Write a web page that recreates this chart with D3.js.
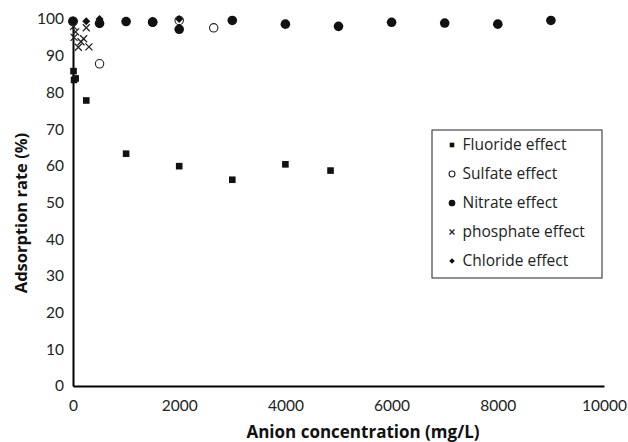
<!DOCTYPE html>
<html>
<head>
<meta charset="utf-8">
<script src="https://cdn.jsdelivr.net/npm/d3@7"></script>
<style>
  body { margin: 0; background: #fff; }
  svg { font-family: "Lato", "Open Sans", sans-serif; }
</style>
</head>
<body>
<div id="chart"></div>
<script>
// data: [concentration mg/L, adsorption %]
var fluoride = [[10, 85.8], [20, 83.4], [50, 83.8], [250, 77.8], [1000, 63.3], [2000, 59.9], [3000, 56.2], [4000, 60.4], [4850, 58.7]];
var sulfate = [[0, 99.3], [500, 87.8], [1500, 99.2], [2000, 99.6], [2650, 97.6]];
var nitrate = [[0, 99.4], [500, 98.8], [1000, 99.3], [1500, 99.1], [2000, 97.2], [3000, 99.6], [4000, 98.6], [5000, 98.0], [6000, 99.1], [7000, 98.9], [8000, 98.6], [9000, 99.6]];
var phosphate = [[10, 98.0], [20, 95.0], [50, 96.5], [100, 92.3], [150, 93.8], [200, 94.6], [250, 97.6], [300, 92.4]];
var chloride = [[0, 99.6], [250, 99.4], [500, 100], [1500, 99.5], [2000, 100]];

var xTicks = [0, 2000, 4000, 6000, 8000, 10000];
var yTicks = [0, 10, 20, 30, 40, 50, 60, 70, 80, 90, 100];

var seriesNames = ["Fluoride effect", "Sulfate effect", "Nitrate effect", "phosphate effect", "Chloride effect"];
var seriesData = [fluoride, sulfate, nitrate, phosphate, chloride];
var seriesShape = ["square", "open", "circle", "cross", "diamond"];

var W = 628, H = 442;
var margin = { top: 19, right: 24, bottom: 56, left: 73 };

var svg = d3.select("#chart").append("svg")
  .attr("width", W)
  .attr("height", H);

var x = d3.scaleLinear().domain([0, 10000]).range([margin.left, W - margin.right]);
var y = d3.scaleLinear().domain([0, 100]).range([H - margin.bottom, margin.top]);

// axes (no tick marks, just labels)
var xAxis = svg.append("g")
  .attr("transform", "translate(0," + y(0) + ")")
  .call(d3.axisBottom(x).tickValues(xTicks).tickSize(0).tickPadding(14).tickFormat(d3.format("d")));
var yAxis = svg.append("g")
  .attr("transform", "translate(" + x(0) + ",0)")
  .call(d3.axisLeft(y).tickValues(yTicks).tickSize(0).tickPadding(9));

[xAxis, yAxis].forEach(function (g) {
  g.select(".domain").attr("stroke", "#000").attr("stroke-width", 2);
  g.selectAll("text").attr("font-size", 15.5).attr("fill", "#222").attr("font-family", "Lato, sans-serif");
});

// axis titles
svg.append("text")
  .attr("x", 363)
  .attr("y", 438)
  .attr("text-anchor", "middle")
  .attr("font-family", "'Open Sans', sans-serif")
  .attr("font-size", 17)
  .attr("font-weight", "bold")
  .attr("fill", "#111")
  .text("Anion concentration (mg/L)");

svg.append("text")
  .attr("transform", "translate(27,213) rotate(-90)")
  .attr("text-anchor", "middle")
  .attr("font-family", "'Open Sans', sans-serif")
  .attr("font-size", 16.5)
  .attr("font-weight", "bold")
  .attr("fill", "#111")
  .text("Adsorption rate (%)");

// marker drawing
function drawMarker(g, shape, s) {
  s = s || 1;
  if (shape === "square") {
    g.append("rect").attr("x", -3.3 * s).attr("y", -3.3 * s).attr("width", 6.6 * s).attr("height", 6.6 * s).attr("fill", "#111");
  } else if (shape === "open") {
    g.append("circle").attr("r", 4.2 * s).attr("fill", "#fff").attr("stroke", "#222").attr("stroke-width", 1.1);
  } else if (shape === "circle") {
    g.append("circle").attr("r", 4.8 * s).attr("fill", "#111");
  } else if (shape === "cross") {
    var a = 3.5 * s;
    g.append("path").attr("d", "M" + -a + "," + -a + "L" + a + "," + a + "M" + -a + "," + a + "L" + a + "," + -a)
      .attr("stroke", "#222").attr("stroke-width", 1.3).attr("fill", "none");
  } else if (shape === "diamond") {
    var b = 4 * s;
    g.append("path").attr("d", "M0," + -b + "L" + b + ",0L0," + b + "L" + -b + ",0Z").attr("fill", "#111");
  }
}

var plot = svg.append("g");
seriesData.forEach(function (data, i) {
  plot.selectAll("g.s" + i)
    .data(data)
    .enter()
    .append("g")
    .attr("class", "s" + i)
    .attr("transform", function (d) { return "translate(" + x(d[0]) + "," + y(d[1]) + ")"; })
    .each(function () { drawMarker(d3.select(this), seriesShape[i]); });
});

// legend
var legend = svg.append("g").attr("transform", "translate(432,130)");
legend.append("rect")
  .attr("width", 170).attr("height", 148)
  .attr("fill", "#fff").attr("stroke", "#222").attr("stroke-width", 1);

seriesNames.forEach(function (name, i) {
  var row = legend.append("g").attr("transform", "translate(20," + (15 + i * 29) + ")");
  drawMarker(row, seriesShape[i], 0.7);
  row.append("text")
    .attr("x", 10.5)
    .attr("dy", "0.35em")
    .attr("font-family", "'Open Sans', sans-serif")
    .attr("font-size", 15.5)
    .attr("fill", "#222")
    .text(name);
});
</script>
</body>
</html>
